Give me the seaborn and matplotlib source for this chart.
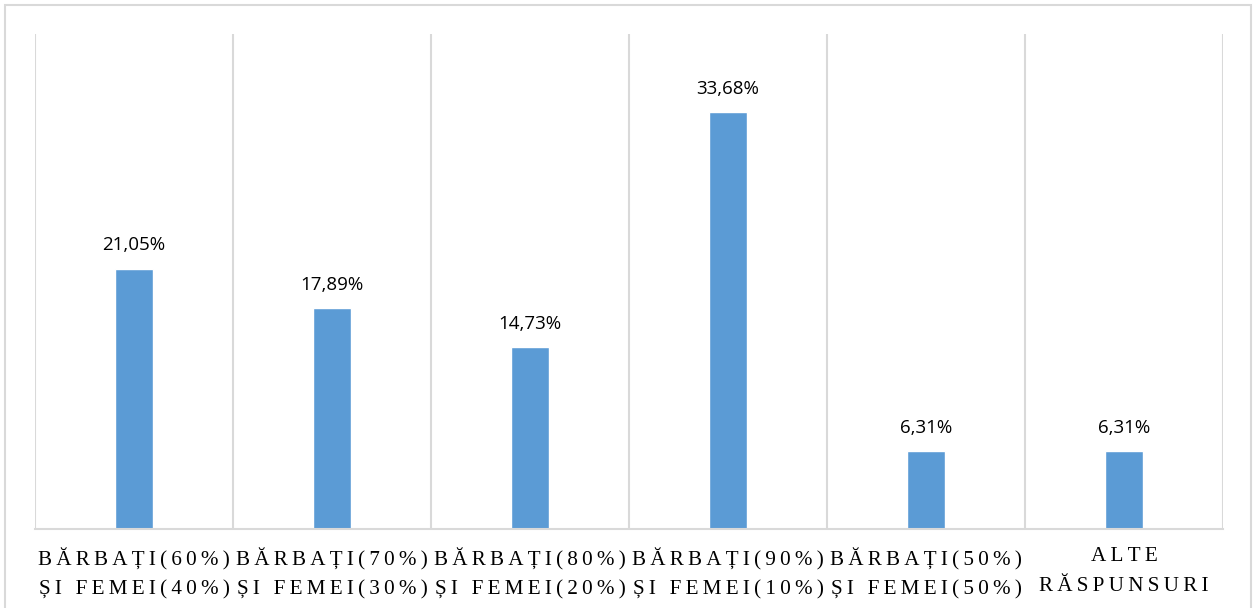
import pandas as pd
import matplotlib.pyplot as plt
import seaborn as sns
from matplotlib.patches import Rectangle

categories = [
    "BĂRBAȚI(60%)\nȘI FEMEI(40%)",
    "BĂRBAȚI(70%)\nȘI FEMEI(30%)",
    "BĂRBAȚI(80%)\nȘI FEMEI(20%)",
    "BĂRBAȚI(90%)\nȘI FEMEI(10%)",
    "BĂRBAȚI(50%)\nȘI FEMEI(50%)",
    "ALTE\nRĂSPUNSURI",
]
values = [21.05, 17.89, 14.73, 33.68, 6.31, 6.31]
value_labels = ["21,05%", "17,89%", "14,73%", "33,68%", "6,31%", "6,31%"]


def spaced(s):
    # imitate the wide letter spacing of the original labels
    return "\n".join("\u2009".join(line) for line in s.split("\n"))


df = pd.DataFrame({"cat": categories, "val": values})

sns.set_style("white")
fig = plt.figure(figsize=(12.59, 6.08), dpi=100)
ax = fig.add_axes([35 / 1259, 1 - 529 / 608, (1223 - 35) / 1259, (529 - 34) / 608])

sns.barplot(data=df, x="cat", y="val", color="#5B9BD5", width=0.19,
            saturation=1, ax=ax)

ax.set_ylim(0, 40)
ax.set_xlim(-0.5, len(categories) - 0.5)
ax.set_yticks([])
ax.set_xlabel("")
ax.set_ylabel("")

# vertical separators between categories
for b in [i - 0.5 for i in range(len(categories) + 1)]:
    ax.axvline(b, color="#D9D9D9", lw=1.5, zorder=0)

for s in ["top", "right", "left"]:
    ax.spines[s].set_visible(False)
ax.spines["bottom"].set_color("#D9D9D9")
ax.spines["bottom"].set_linewidth(1.5)

ax.set_xticks(range(len(categories)))
ax.set_xticklabels([spaced(c) for c in categories], family="Liberation Serif",
                   fontsize=15.2, color="#000000", linespacing=1.75)
ax.tick_params(axis="x", length=0, pad=13)

for i, (v, lab) in enumerate(zip(values, value_labels)):
    ax.annotate(lab, (i, v), xytext=(0, 13), textcoords="offset points",
                ha="center", va="baseline", fontsize=13.5, family="Open Sans",
                color="#000000")

# light frame around the whole chart
fig.patches.append(Rectangle((5 / 1259, -0.1), (1251 - 5) / 1259, 1.1 - 5 / 608,
                             transform=fig.transFigure, fill=False,
                             edgecolor="#D9D9D9", lw=1.5))

fig.savefig("out.png", dpi=100)
